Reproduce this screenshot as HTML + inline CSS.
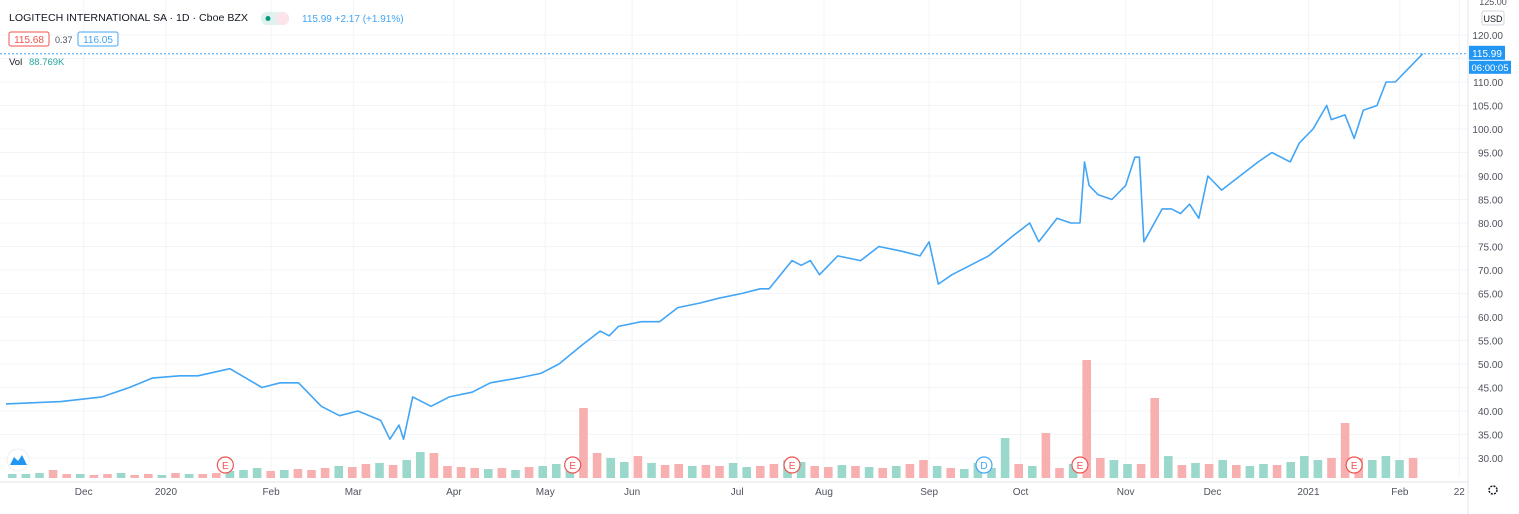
<!DOCTYPE html>
<html><head><meta charset="utf-8"><style>
body{margin:0;background:#fff;font-family:"Liberation Sans",sans-serif;}
#wrap{position:relative;width:1519px;height:514px;overflow:hidden;}
svg text{font-family:"Liberation Sans",sans-serif;}
</style></head><body>
<div id="wrap">
<svg id="chart" width="1519" height="514"></svg>
</div>
<script>
const days=[0,12,21,27,32,38,42,49,56,60,64,69,73,77,82,84,86,87,89,93,97,102,106,112,117,121,126,130,132,134,139,143,147,152,156,161,165,167,172,174,176,178,182,187,191,196,200,202,204,207,211,215,220,224,226,230,233,235,236,237,239,242,245,247,248,249,253,255,257,259,261,263,266,270,274,277,281,283,286,289,290,293,295,297,300,302,304,307,310];
const prices=[41.5,42,43,45,47,47.5,47.5,49,45,46,46,41,39,40,38,34,37,34,43,41,43,44,46,47,48,50,54,57,56,58,59,59,62,63,64,65,66,66,72,71,72,69,73,72,75,74,73,76,67,69,71,73,77,80,76,81,80,80,93,88,86,85,88,94,94,76,83,83,82,84,81,90,87,90,93,95,93,97,100,105,102,103,98,104,105,110,110,113,116];
const vols=[4,4,5,8,4,4,3,4,5,3,4,3,5,4,4,5,7,8,10,7,8,9,8,10,12,11,14,15,13,18,26,25,12,11,10,9,10,8,11,12,14,20,70,25,20,16,22,15,13,14,12,13,12,15,11,12,14,18,16,12,11,13,12,11,10,12,14,18,12,10,9,15,10,40,14,12,45,10,14,118,20,18,14,14,80,22,13,15,14,18,13,12,14,13,16,22,18,20,55,20,18,22,18,20];
const volDir="gggrrgrrgrrgrgrrgggrgrrrgrrgrggrrrrgrgrgggrrggrgrrgrrggrrggrrgrgrgrrgrgggrrgrrgrrggrrgrgrgrggrgggrgrgggrgg";
const priceTicks=[30,35,40,45,50,55,60,65,70,75,80,85,90,95,100,105,110,115,120];
const monthLabels=["Dec","2020","Feb","Mar","Apr","May","Jun","Jul","Aug","Sep","Oct","Nov","Dec","2021","Feb","22"];
const monthDays=[17,35,58,76,98,118,137,160,179,202,222,245,264,285,305,318];
const events=["E","E","E","D","E","E"];
const eventDays=[48,124,172,214,235,295];
const spikeRed=[42,76,79,84,98];
const spikeGreen=[73];

const svg=document.getElementById('chart');
const NS='http://www.w3.org/2000/svg';
const xS=d=>6+d*4.57;
const yS=p=>35+(120-p)*4.7;
const base=478;
function mk(t,a,p){const e=document.createElementNS(NS,t);for(const k in a)e.setAttribute(k,a[k]);(p||svg).appendChild(e);return e;}

priceTicks.forEach(p=>{
 const l=mk('line',{x1:0,x2:1468,y1:yS(p),y2:yS(p),stroke:'#f3f4f7','stroke-width':1});
 
 
 if(p!==115){const t=mk('text',{x:1503,y:yS(p)+4,'text-anchor':'end','font-size':10,fill:'#50535e'});t.textContent=p.toFixed(2);
 
 }
});
monthDays.forEach((d,i)=>{
 const l=mk('line',{x1:xS(d),x2:xS(d),y1:0,y2:base,stroke:'#f3f4f7','stroke-width':1});
 
 
 const t=mk('text',{x:xS(d),y:495,'text-anchor':'middle','font-size':10,fill:'#50535e'});t.textContent=monthLabels[i];
 
 
});
mk('line',{x1:1468,x2:1468,y1:0,y2:514,stroke:'#e0e3eb'});
mk('line',{x1:0,x2:1468,y1:482,y2:482,stroke:'#e0e3eb'});

const bw=13.6;
vols.forEach((v,i)=>{
 const red=(volDir[i]==='r'||spikeRed.includes(i))&&!spikeGreen.includes(i);
 const r=mk('rect',{x:6+i*bw+2,y:base-v,width:bw-5,height:v,fill:red?'#f7b0af':'#9ad8cc'});
 
 
});

let d='';days.forEach((dd,i)=>{d+=(i?'L':'M')+xS(dd).toFixed(1)+' '+yS(prices[i]).toFixed(1);});
const pl=mk('path',{d:d,fill:'none',stroke:'#42a5f5','stroke-width':1.6,'stroke-linejoin':'round'});


const last=prices[prices.length-1];
const ll=mk('line',{x1:0,x2:1468,y1:yS(last),y2:yS(last),stroke:'#42a5f5','stroke-dasharray':'2 2','stroke-width':1});



events.forEach((e,i)=>{
 const c=e==='D'?'#42a5f5':'#ef5350';
 const g=mk('g',{});
 
 
 mk('circle',{cx:xS(eventDays[i]),cy:465,r:8,fill:'#fff',stroke:c,'stroke-width':1.2},g);
 const t=mk('text',{x:xS(eventDays[i]),y:469,'text-anchor':'middle','font-size':10,fill:c},g);t.textContent=e;
});

const pb=mk('rect',{x:1469,y:yS(last)-8,width:36,height:14,fill:'#2196f3'});


let t=mk('text',{x:1487,y:yS(last)+3,'text-anchor':'middle','font-size':10,fill:'#fff'});t.textContent='115.99';
mk('rect',{x:1469,y:yS(last)+7,width:42,height:13,fill:'#2196f3'});
t=mk('text',{x:1490,y:yS(last)+17,'text-anchor':'middle','font-size':9.5,fill:'#fff'});t.textContent='06:00:05';
const ub=mk('rect',{x:1482,y:11,width:22,height:14,fill:'#fff',stroke:'#d1d4dc',rx:2});


t=mk('text',{x:1493,y:22,'text-anchor':'middle','font-size':9,fill:'#131722'});t.textContent='USD';
t=mk('text',{x:1493,y:5,'text-anchor':'middle','font-size':9,fill:'#50535e'});t.textContent='125.00';

t=mk('text',{x:9,y:21,'font-size':10.5,fill:'#131722',textLength:239,lengthAdjust:'spacingAndGlyphs'});t.textContent='LOGITECH INTERNATIONAL SA · 1D · Cboe BZX';


mk('rect',{x:261,y:12,width:28,height:13,rx:6,fill:'#e0f2ef'});
mk('rect',{x:276,y:12,width:13,height:13,rx:6,fill:'#fce4ec'});
mk('circle',{cx:268,cy:18.5,r:2.5,fill:'#089981'});
t=mk('text',{x:302,y:22,'font-size':10,fill:'#42a5f5'});t.textContent='115.99  +2.17 (+1.91%)';
t.setAttribute('xml:space','preserve');
mk('rect',{x:9,y:32,width:40,height:14,fill:'#fff',stroke:'#ef5350',rx:2});
t=mk('text',{x:29,y:43,'text-anchor':'middle','font-size':10,fill:'#ef5350'});t.textContent='115.68';
t=mk('text',{x:55,y:43,'font-size':9,fill:'#50535e'});t.textContent='0.37';
mk('rect',{x:78,y:32,width:40,height:14,fill:'#fff',stroke:'#42a5f5',rx:2});
t=mk('text',{x:98,y:43,'text-anchor':'middle','font-size':10,fill:'#42a5f5'});t.textContent='116.05';
t=mk('text',{x:9,y:65,'font-size':9.5,fill:'#131722'});t.textContent='Vol';
t=mk('text',{x:29,y:65,'font-size':9.5,fill:'#26a69a'});t.textContent='88.769K';

mk('circle',{cx:18,cy:460,r:11,fill:'#fff',stroke:'#eceff4'});
const lg=mk('path',{d:'M10 465 L14 457 L18 461 L22 455 L27 465 Z',fill:'#2196f3'});


const st=mk('circle',{cx:1493,cy:490,r:4,fill:'none',stroke:'#131722','stroke-width':1.5,'stroke-dasharray':'2 1.2'});


</script>
</body></html>
